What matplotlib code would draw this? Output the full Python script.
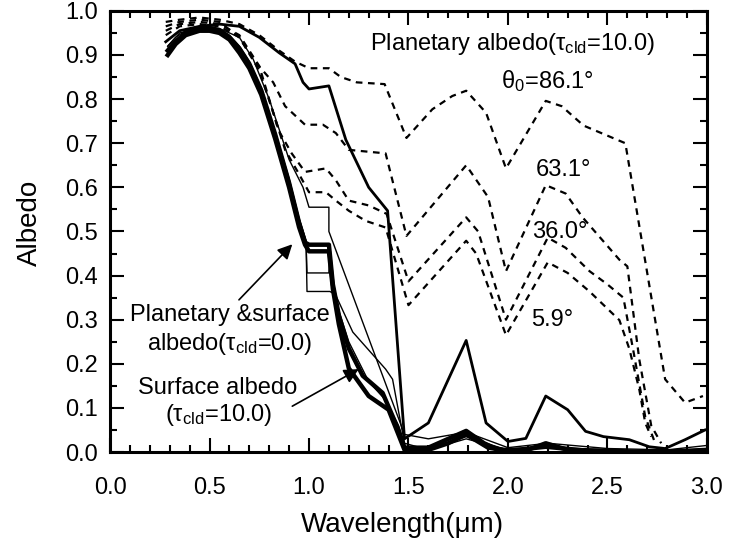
import matplotlib
matplotlib.use("Agg")
import matplotlib.pyplot as plt
from matplotlib.ticker import MultipleLocator

plt.rcParams['font.family'] = ['Liberation Sans', 'DejaVu Sans']
plt.rcParams['mathtext.fontset'] = 'custom'
plt.rcParams['mathtext.rm'] = 'Liberation Sans'
plt.rcParams['mathtext.it'] = 'Liberation Sans'

# planetary albedo, tau_cld = 10 (dashed), one per solar zenith angle
x_861 = [0.28, 0.35, 0.45, 0.55, 0.65, 0.75, 0.85, 0.93, 1.0, 1.1, 1.16, 1.24, 1.38, 1.49,
         1.62, 1.72, 1.79, 1.89, 1.99, 2.19, 2.27, 2.38, 2.59, 2.79, 2.89, 2.98]
y_861 = [0.975, 0.98, 0.985, 0.98, 0.97, 0.945, 0.91, 0.885, 0.87, 0.87, 0.85, 0.838, 0.834, 0.712,
         0.777, 0.807, 0.819, 0.769, 0.643, 0.796, 0.784, 0.74, 0.70, 0.165, 0.112, 0.127]

x_631 = [0.28, 0.35, 0.45, 0.55, 0.65, 0.73, 0.82, 0.88, 0.98, 1.07, 1.135, 1.2, 1.385, 1.49,
         1.79, 1.9, 1.99, 2.19, 2.29, 2.375, 2.56, 2.6, 2.66, 2.72, 2.77]
y_631 = [0.965, 0.975, 0.98, 0.975, 0.94, 0.884, 0.838, 0.784, 0.742, 0.742, 0.723, 0.685, 0.677, 0.49,
         0.65, 0.578, 0.41, 0.605, 0.586, 0.532, 0.436, 0.421, 0.21, 0.06, 0.02]

x_360 = [0.28, 0.35, 0.45, 0.55, 0.65, 0.75, 0.846, 0.913, 0.98, 1.085, 1.135, 1.2, 1.3, 1.39, 1.5,
         1.79, 1.85, 1.99, 2.2, 2.29, 2.41, 2.5, 2.58, 2.63, 2.69, 2.74]
y_360 = [0.955, 0.97, 0.975, 0.97, 0.945, 0.875, 0.73, 0.677, 0.635, 0.643, 0.616, 0.57, 0.559, 0.54, 0.387,
         0.532, 0.50, 0.30, 0.486, 0.463, 0.41, 0.38, 0.35, 0.23, 0.08, 0.02]

x_59 = [0.28, 0.35, 0.45, 0.55, 0.65, 0.75, 0.82, 0.88, 0.95, 1.0, 1.085, 1.135, 1.2, 1.285, 1.385, 1.5,
        1.79, 1.84, 1.99, 2.2, 2.3, 2.41, 2.56, 2.61, 2.66, 2.69, 2.72]
y_59 = [0.945, 0.965, 0.97, 0.965, 0.94, 0.865, 0.77, 0.685, 0.63, 0.589, 0.589, 0.57, 0.547, 0.524, 0.509, 0.333,
        0.479, 0.45, 0.265, 0.43, 0.406, 0.364, 0.299, 0.234, 0.142, 0.066, 0.035]

# solid curves
x_s1 = [0.28, 0.35, 0.45, 0.55, 0.65, 0.75, 0.85, 0.93, 0.97, 1.0, 1.1, 1.185, 1.3, 1.395, 1.48, 1.6,
        1.79, 1.89, 2.0, 2.09, 2.19, 2.3, 2.39, 2.48, 2.61, 2.71, 2.79, 2.89, 2.99]
y_s1 = [0.93, 0.955, 0.965, 0.97, 0.965, 0.94, 0.905, 0.88, 0.838, 0.823, 0.83, 0.708, 0.60, 0.547, 0.03, 0.066,
        0.253, 0.066, 0.024, 0.031, 0.127, 0.096, 0.047, 0.035, 0.028, 0.012, 0.008, 0.028, 0.05]

x_s2 = [0.29, 0.35, 0.45, 0.55, 0.65, 0.72, 0.8, 0.9, 0.97, 1.0, 1.1, 1.1, 1.48, 1.6, 1.79, 2.0, 2.2, 2.5, 2.8, 3.0]
y_s2 = [0.92, 0.95, 0.96, 0.96, 0.94, 0.89, 0.80, 0.663, 0.60, 0.555, 0.555, 0.50, 0.04, 0.03, 0.045, 0.01, 0.02,
        0.008, 0.005, 0.015]

# planetary & surface albedo, tau_cld = 0
x_t1 = [0.29, 0.33, 0.38, 0.45, 0.5, 0.55, 0.6, 0.65, 0.7, 0.76, 0.83, 0.9, 0.95, 0.98, 1.0, 1.1, 1.12, 1.15,
        1.2, 1.27, 1.37, 1.45, 1.48, 1.6, 1.7, 1.79, 1.88, 1.95, 2.1, 2.19, 2.3, 2.5, 2.7, 2.9, 3.0]
y_t1 = [0.91, 0.93, 0.95, 0.96, 0.96, 0.955, 0.94, 0.915, 0.88, 0.82, 0.72, 0.61, 0.52, 0.475, 0.47, 0.47, 0.38, 0.31,
        0.235, 0.173, 0.134, 0.05, 0.01, 0.01, 0.03, 0.048, 0.02, 0.005, 0.005, 0.02, 0.005, 0.003, 0.0, 0.003, 0.005]

x_b2 = [0.29, 0.33, 0.38, 0.45, 0.5, 0.55, 0.6, 0.65, 0.7, 0.76, 0.83, 0.9, 0.95, 0.985, 0.99, 1.1, 1.105, 1.12,
        1.15, 1.2, 1.3, 1.38, 1.45, 1.48, 1.6, 1.79, 2.0, 2.19, 2.5, 3.0]
y_b2 = [0.92, 0.94, 0.955, 0.965, 0.965, 0.96, 0.945, 0.92, 0.885, 0.825, 0.725, 0.62, 0.53, 0.48, 0.406, 0.406,
        0.45, 0.39, 0.32, 0.25, 0.16, 0.12, 0.06, 0.01, 0.005, 0.03, 0.005, 0.01, 0.002, 0.004]

x_b3 = [0.29, 0.33, 0.38, 0.45, 0.5, 0.55, 0.6, 0.65, 0.7, 0.76, 0.83, 0.9, 0.95, 0.985, 0.99, 1.105, 1.133,
        1.22, 1.385, 1.42, 1.48, 1.6, 1.79, 2.0, 2.19, 2.5, 3.0]
y_b3 = [0.915, 0.935, 0.952, 0.962, 0.962, 0.957, 0.943, 0.918, 0.883, 0.823, 0.722, 0.617, 0.528, 0.478, 0.364,
        0.364, 0.357, 0.272, 0.188, 0.165, 0.02, 0.005, 0.035, 0.004, 0.012, 0.002, 0.003]

# surface albedo, tau_cld = 10
x_t2 = [0.29, 0.33, 0.38, 0.45, 0.5, 0.55, 0.6, 0.65, 0.7, 0.76, 0.83, 0.9, 0.95, 0.98, 1.0, 1.1, 1.12, 1.15,
        1.2, 1.3, 1.4, 1.48, 1.6, 1.7, 1.79, 1.9, 2.0, 2.19, 2.4, 2.6, 2.8, 3.0]
y_t2 = [0.90, 0.925, 0.945, 0.955, 0.955, 0.95, 0.935, 0.905, 0.87, 0.81, 0.71, 0.60, 0.51, 0.47, 0.455, 0.455,
        0.37, 0.29, 0.19, 0.127, 0.096, 0.005, 0.005, 0.02, 0.04, 0.01, 0.003, 0.012, 0.003, 0.0, 0.0, 0.003]

fig = plt.figure(figsize=(7.36, 5.44), dpi=100)
ax = fig.add_axes([0.1495, 0.169, 0.811, 0.811])

dash = (0, (3, 2.5))
for xs, ys in [(x_861, y_861), (x_631, y_631), (x_360, y_360), (x_59, y_59)]:
    ax.plot(xs, ys, color='black', lw=1.6, linestyle=dash)

ax.plot(x_s1, y_s1, color='black', lw=2.0)
ax.plot(x_s2, y_s2, color='black', lw=1.0)
ax.plot(x_t1, y_t1, color='black', lw=3.2)
ax.plot(x_b2, y_b2, color='black', lw=1.0)
ax.plot(x_b3, y_b3, color='black', lw=1.0)
ax.plot(x_t2, y_t2, color='black', lw=3.2)

ax.set_xlim(0, 3.0)
ax.set_ylim(0, 1.0)
ax.xaxis.set_major_locator(MultipleLocator(0.5))
ax.xaxis.set_minor_locator(MultipleLocator(0.1))
ax.yaxis.set_major_locator(MultipleLocator(0.1))
ax.yaxis.set_minor_locator(MultipleLocator(0.05))
ax.xaxis.set_major_formatter(plt.FormatStrFormatter('%.1f'))
ax.yaxis.set_major_formatter(plt.FormatStrFormatter('%.1f'))
ax.tick_params(which='both', direction='in', top=True, right=True, labelsize=17, width=1.5)
ax.tick_params(which='major', length=10)
ax.tick_params(which='minor', length=5)
ax.tick_params(axis='x', which='major', pad=18)
ax.tick_params(axis='y', which='major', pad=9)
for sp in ax.spines.values():
    sp.set_linewidth(2.2)

ax.set_xlabel('Wavelength(\u03bcm)', fontsize=20)
ax.set_ylabel('Albedo', fontsize=20)
ax.xaxis.set_label_coords(0.49, -0.135)
ax.yaxis.set_label_coords(-0.112, 0.52)

fs = 17
ax.text(2.02, 0.925, r'Planetary albedo($\mathregular{\tau_{cld}}$=10.0)', fontsize=fs, ha='center', va='center')
ax.text(2.2, 0.84, r'$\mathregular{\theta_0}$=86.1°', fontsize=fs, ha='center', va='center')
ax.text(2.28, 0.64, '63.1°', fontsize=fs, ha='center', va='center')
ax.text(2.26, 0.498, '36.0°', fontsize=fs, ha='center', va='center')
ax.text(2.22, 0.30, '5.9°', fontsize=fs, ha='center', va='center')

ax.text(0.60, 0.31, 'Planetary &surface', fontsize=fs, ha='center', va='center')
ax.text(0.60, 0.245, r'albedo($\mathregular{\tau_{cld}}$=0.0)', fontsize=fs, ha='center', va='center')
ax.text(0.54, 0.146, 'Surface albedo', fontsize=fs, ha='center', va='center')
ax.text(0.545, 0.083, r'($\mathregular{\tau_{cld}}$=10.0)', fontsize=fs, ha='center', va='center')

arrow = dict(arrowstyle='-|>', color='black', lw=1.2, mutation_scale=22, shrinkA=0, shrinkB=0)
ax.annotate('', xy=(0.916, 0.471), xytext=(0.648, 0.345), arrowprops=arrow)
ax.annotate('', xy=(1.25, 0.188), xytext=(0.916, 0.104), arrowprops=arrow)

fig.savefig('out.png', dpi=100)
